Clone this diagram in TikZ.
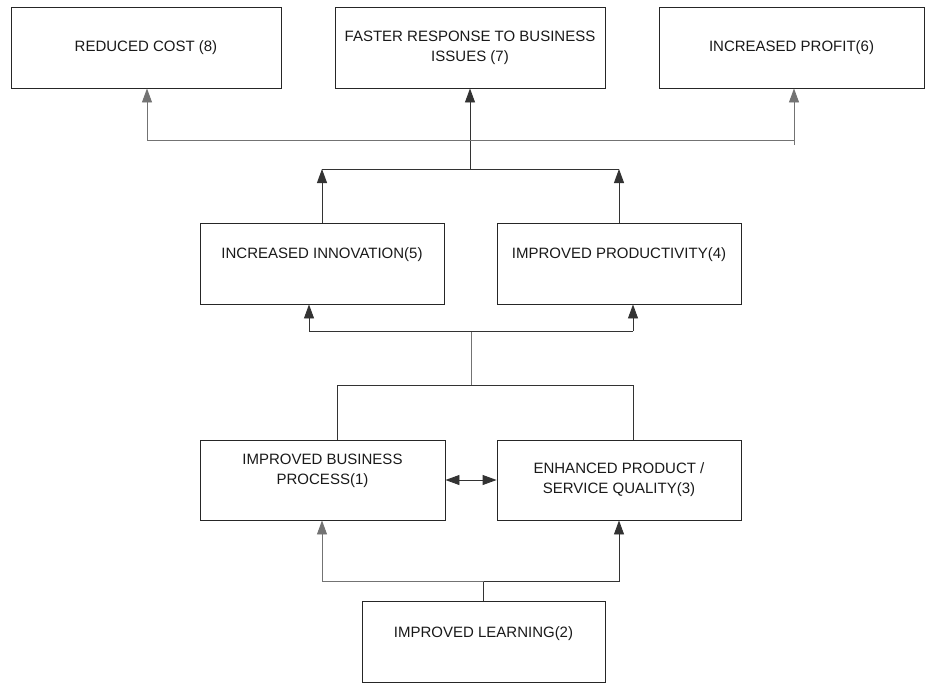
\documentclass[tikz,border=0pt]{standalone}
\usepackage{fontspec}
\setmainfont{Liberation Sans}
\usetikzlibrary{arrows.meta}
\begin{document}
\begin{tikzpicture}[x=1pt,y=-1pt,
  box/.style={draw=black!85,line width=0.9pt,minimum height=81pt,inner sep=0pt},
  txt/.style={font=\fontsize{15}{20}\selectfont,align=center,text=black!90,inner sep=0pt},
  conn/.style={line width=0.9pt,draw=black!80},
  gconn/.style={line width=0.9pt,draw=black!55},
  arr/.style={-{Triangle[length=14pt,width=10pt]}},
  darr/.style={{Triangle[length=14pt,width=10pt]}-{Triangle[length=14pt,width=10pt]}}]
\useasboundingbox (0,0) rectangle (926,686);
% boxes
\node[box,minimum width=270pt] (n8) at (146,47.5) {};
\node[box,minimum width=270pt] (n7) at (470,47.5) {};
\node[box,minimum width=265pt] (n6) at (791.5,47.5) {};
\node[box,minimum width=244pt] (n5) at (322,263.5) {};
\node[box,minimum width=244pt] (n4) at (619,263.5) {};
\node[box,minimum width=245pt,minimum height=80pt] (n1) at (322.5,480) {};
\node[box,minimum width=244pt,minimum height=80pt] (n3) at (619,480) {};
\node[box,minimum width=243pt] (n2) at (483.5,641.5) {};
% texts
\node[txt] (t8) at (n8.center) {REDUCED COST (8)};
\node[txt] (t7) at (n7.center) {FASTER RESPONSE TO BUSINESS\\ISSUES (7)};
\node[txt] (t6) at (n6.center) {INCREASED PROFIT(6)};
\node[txt] (t5) at ([yshift=9pt]n5.center) {INCREASED INNOVATION(5)};
\node[txt] (t4) at ([yshift=9pt]n4.center) {IMPROVED PRODUCTIVITY(4)};
\node[txt] (t1) at ([yshift=9pt]n1.center) {IMPROVED BUSINESS\\PROCESS(1)};
\node[txt] (t3) at (n3.center) {ENHANCED PRODUCT /\\SERVICE QUALITY(3)};
\node[txt] (t2) at ([yshift=8pt]n2.center) {IMPROVED LEARNING(2)};
% junction coordinates
\coordinate (jl) at (322,581);
\coordinate (jr) at (619,581);
\coordinate (jm) at (483.5,581);
\coordinate (bl) at (337,385);
\coordinate (br) at (633,385);
\coordinate (bm) at (471,385);
\coordinate (ml) at (309,331);
\coordinate (mr) at (633,331);
\coordinate (mm) at (471,331);
\coordinate (ul) at (322,169);
\coordinate (ur) at (619,169);
\coordinate (um) at (470,169);
\coordinate (tl) at (147,140);
\coordinate (tr) at (794,140);
\coordinate (tm) at (470,140);
\coordinate (trb) at (794,145);
% learning -> process / quality
\draw[conn] (n2.north) -- (jm);
\draw[gconn,arr] (jm) -- (jl) -- (jl |- n1.south);
\draw[conn,arr] (jm) -- (jr) -- (jr |- n3.south);
% process <-> quality
\draw[conn,darr] (n1.east) -- (n3.east -| n3.west);
% process / quality -> innovation / productivity
\draw[conn] (bl |- n1.north) -- (bl) -- (br) -- (br |- n3.north);
\draw[gconn] (bm) -- (mm);
\draw[conn,arr] (ml) -- (ml |- n5.south);
\draw[conn,arr] (mr) -- (mr |- n4.south);
\draw[conn] (ml) -- (mr);
% innovation / productivity -> top
\draw[conn,arr] (n5.north) -- (ul);
\draw[conn,arr] (ur |- n4.north) -- (ur);
\draw[conn] (ul) -- (ur);
\draw[conn] (um) -- (tm);
\draw[gconn] (tl) -- (tr);
\draw[gconn] (trb) -- (tr);
\draw[gconn,arr] (tl) -- (tl |- n8.south);
\draw[conn,arr] (tm) -- (n7.south);
\draw[gconn,arr] (tr) -- (tr |- n6.south);
\end{tikzpicture}
\end{document}
